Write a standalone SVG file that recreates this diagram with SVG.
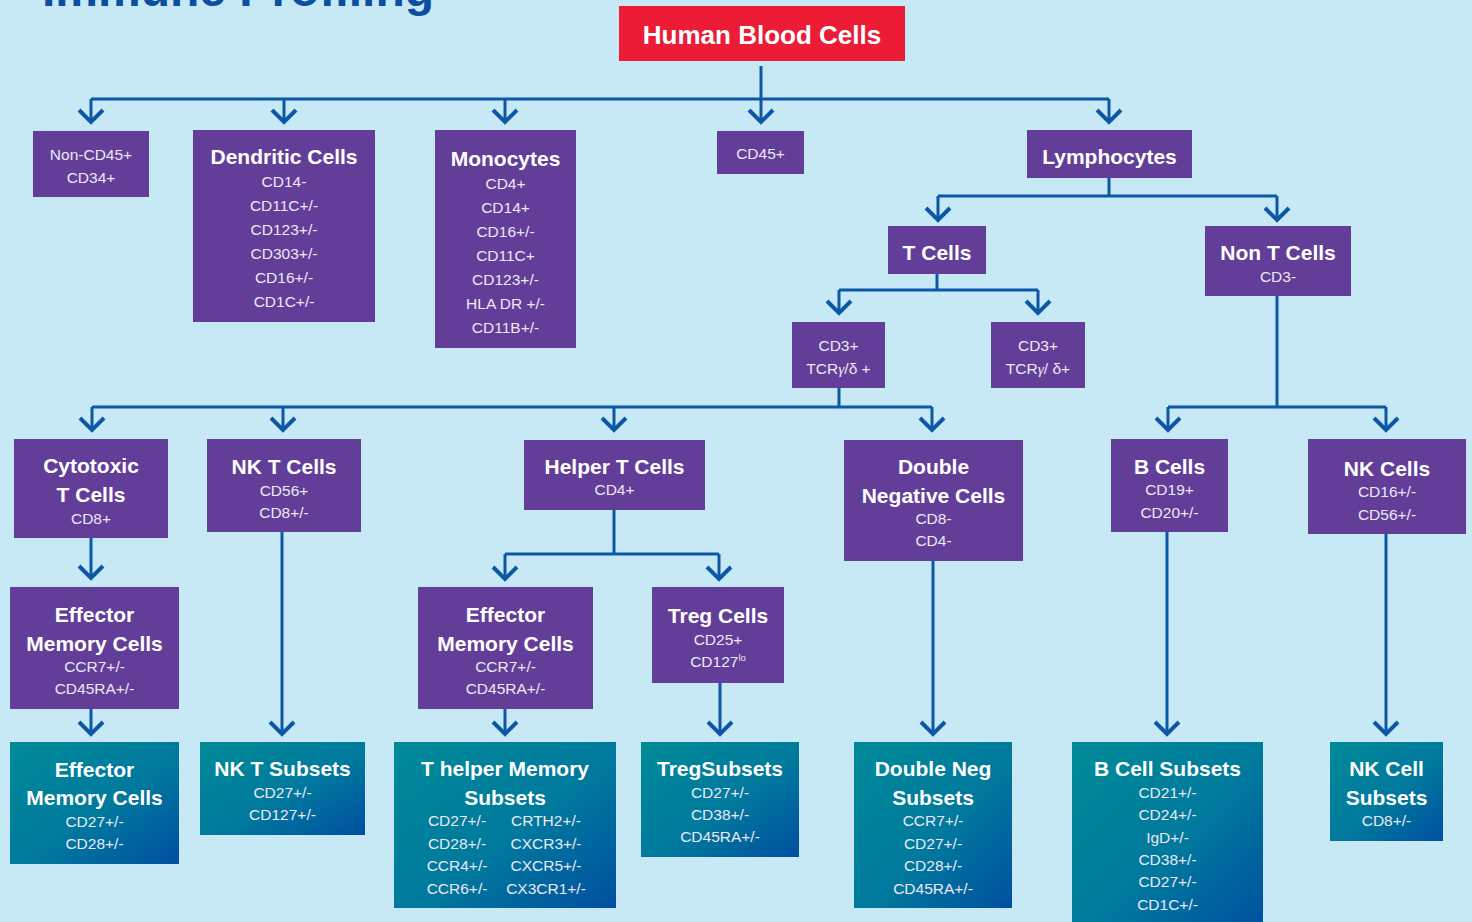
<svg xmlns="http://www.w3.org/2000/svg" width="1472" height="922" viewBox="0 0 1472 922">
  <style>
    .bg { fill: #c6e9f5; }
    .purple { fill: #633e98; }
    .teal { fill: url(#tealGrad); }
    .red { fill: #ec1b36; }
    .t { font-family: "Liberation Sans", Arial, sans-serif; font-weight: bold; font-size: 21px; fill: #ffffff; text-anchor: middle; }
    .s { font-family: "Liberation Sans", Arial, sans-serif; font-size: 15.5px; fill: #ece8f5; text-anchor: middle; }
    .big { font-family: "Liberation Sans", Arial, sans-serif; font-weight: bold; font-size: 26px; fill: #ffffff; text-anchor: middle; }
    .head { font-family: "Liberation Sans", Arial, sans-serif; font-weight: bold; font-size: 48px; fill: #0b4ea2; }
    .conn path { fill: none; stroke: #0d57a7; stroke-width: 3; }
    .conn path.arr { marker-end: url(#chev); }
  </style>
  <defs>
    <linearGradient id="tealGrad" x1="0" y1="0" x2="1" y2="1">
      <stop offset="0" stop-color="#008b98"/>
      <stop offset="0.55" stop-color="#00799d"/>
      <stop offset="1" stop-color="#004fa0"/>
    </linearGradient>
    <marker id="chev" markerUnits="userSpaceOnUse" markerWidth="40" markerHeight="40" viewBox="-20 -20 40 40" refX="0" refY="0" orient="auto" overflow="visible">
      <path d="M-12,-12 L0,0 L-12,12" fill="none" stroke="#0d57a7" stroke-width="4"/>
    </marker>
  </defs>

  <rect class="bg" x="0" y="0" width="1472" height="922"/>
  <text class="head" x="42" y="6">Immune Profiling</text>

  <g id="connectors" class="conn">
    <path d="M761,66 V99"/>
    <path d="M91,99 H1109"/>
    <path class="arr" d="M91,99 V122"/>
    <path class="arr" d="M284,99 V122"/>
    <path class="arr" d="M505,99 V122"/>
    <path class="arr" d="M761,99 V122"/>
    <path class="arr" d="M1109,99 V122"/>

    <path d="M1109,178 V196"/>
    <path d="M938,196 H1277"/>
    <path class="arr" d="M938,196 V220"/>
    <path class="arr" d="M1277,196 V220"/>

    <path d="M937,274 V290"/>
    <path d="M839,290 H1038"/>
    <path class="arr" d="M839,290 V313"/>
    <path class="arr" d="M1038,290 V313"/>

    <path d="M839,388 V407"/>
    <path d="M92,407 H932"/>
    <path class="arr" d="M92,407 V430"/>
    <path class="arr" d="M283,407 V430"/>
    <path class="arr" d="M614,407 V430"/>
    <path class="arr" d="M932,407 V430"/>

    <path d="M1277,296 V407"/>
    <path d="M1168,407 H1386"/>
    <path class="arr" d="M1168,407 V430"/>
    <path class="arr" d="M1386,407 V430"/>

    <path class="arr" d="M91,538 V578"/>

    <path d="M614,510 V554"/>
    <path d="M505,554 H719"/>
    <path class="arr" d="M505,554 V579"/>
    <path class="arr" d="M719,554 V579"/>

    <path class="arr" d="M91,709 V734"/>
    <path class="arr" d="M282,532 V734"/>
    <path class="arr" d="M505,709 V734"/>
    <path class="arr" d="M720,683 V734"/>
    <path class="arr" d="M933,561 V734"/>
    <path class="arr" d="M1167,532 V734"/>
    <path class="arr" d="M1386,534 V734"/>
  </g>

  <g id="human-blood-cells">
    <rect class="red" x="619" y="6" width="286" height="55"/>
    <text class="big" x="762" y="44">Human Blood Cells</text>
  </g>

  <g id="non-cd45">
    <rect class="purple" x="33" y="131" width="116" height="66"/>
    <text class="s" x="91" y="160">Non-CD45+</text>
    <text class="s" x="91" y="183">CD34+</text>
  </g>

  <g id="dendritic-cells">
    <rect class="purple" x="193" y="130" width="182" height="192"/>
    <text class="t" x="284" y="163.5">Dendritic Cells</text>
    <text class="s" x="284" y="186.5">CD14-</text>
    <text class="s" x="284" y="210.5">CD11C+/-</text>
    <text class="s" x="284" y="234.5">CD123+/-</text>
    <text class="s" x="284" y="258.5">CD303+/-</text>
    <text class="s" x="284" y="282.5">CD16+/-</text>
    <text class="s" x="284" y="306.5">CD1C+/-</text>
  </g>

  <g id="monocytes">
    <rect class="purple" x="435" y="130" width="141" height="218"/>
    <text class="t" x="505.5" y="165.5">Monocytes</text>
    <text class="s" x="505.5" y="188.5">CD4+</text>
    <text class="s" x="505.5" y="212.5">CD14+</text>
    <text class="s" x="505.5" y="236.5">CD16+/-</text>
    <text class="s" x="505.5" y="260.5">CD11C+</text>
    <text class="s" x="505.5" y="284.5">CD123+/-</text>
    <text class="s" x="505.5" y="308.5">HLA DR +/-</text>
    <text class="s" x="505.5" y="332.5">CD11B+/-</text>
  </g>

  <g id="cd45">
    <rect class="purple" x="717" y="131" width="87" height="43"/>
    <text class="s" x="760.5" y="158.5">CD45+</text>
  </g>

  <g id="lymphocytes">
    <rect class="purple" x="1027" y="130" width="165" height="48"/>
    <text class="t" x="1109.5" y="163.5">Lymphocytes</text>
  </g>

  <g id="t-cells">
    <rect class="purple" x="888" y="226" width="98" height="48"/>
    <text class="t" x="937" y="259.5">T Cells</text>
  </g>

  <g id="non-t-cells">
    <rect class="purple" x="1205" y="226" width="146" height="70"/>
    <text class="t" x="1278" y="259.5">Non T Cells</text>
    <text class="s" x="1278" y="281.5">CD3-</text>
  </g>

  <g id="cd3-tcr-1">
    <rect class="purple" x="792" y="322" width="93" height="66"/>
    <text class="s" x="838.5" y="350.5">CD3+</text>
    <text class="s" x="838.5" y="373.5">TCR<tspan font-family="'Liberation Serif', serif" font-style="italic">γ</tspan>/δ +</text>
  </g>

  <g id="cd3-tcr-2">
    <rect class="purple" x="991" y="322" width="94" height="66"/>
    <text class="s" x="1038" y="350.5">CD3+</text>
    <text class="s" x="1038" y="373.5">TCR<tspan font-family="'Liberation Serif', serif" font-style="italic">γ</tspan>/ δ+</text>
  </g>

  <g id="cytotoxic-t-cells">
    <rect class="purple" x="14" y="439" width="154" height="99"/>
    <text class="t" x="91" y="472.5">Cytotoxic</text>
    <text class="t" x="91" y="501.5">T Cells</text>
    <text class="s" x="91" y="523.5">CD8+</text>
  </g>

  <g id="nk-t-cells">
    <rect class="purple" x="207" y="439" width="154" height="93"/>
    <text class="t" x="284" y="473.5">NK T Cells</text>
    <text class="s" x="284" y="495.5">CD56+</text>
    <text class="s" x="284" y="517.5">CD8+/-</text>
  </g>

  <g id="helper-t-cells">
    <rect class="purple" x="524" y="440" width="181" height="70"/>
    <text class="t" x="614.5" y="473.5">Helper T Cells</text>
    <text class="s" x="614.5" y="494.5">CD4+</text>
  </g>

  <g id="double-negative-cells">
    <rect class="purple" x="844" y="440" width="179" height="121"/>
    <text class="t" x="933.5" y="473.5">Double</text>
    <text class="t" x="933.5" y="502.5">Negative Cells</text>
    <text class="s" x="933.5" y="523.5">CD8-</text>
    <text class="s" x="933.5" y="545.5">CD4-</text>
  </g>

  <g id="b-cells">
    <rect class="purple" x="1111" y="439" width="117" height="93"/>
    <text class="t" x="1169.5" y="473.5">B Cells</text>
    <text class="s" x="1169.5" y="494.5">CD19+</text>
    <text class="s" x="1169.5" y="517.5">CD20+/-</text>
  </g>

  <g id="nk-cells">
    <rect class="purple" x="1308" y="439" width="158" height="95"/>
    <text class="t" x="1387" y="475.5">NK Cells</text>
    <text class="s" x="1387" y="496.5">CD16+/-</text>
    <text class="s" x="1387" y="519.5">CD56+/-</text>
  </g>

  <g id="effector-memory-cytotoxic">
    <rect class="purple" x="10" y="587" width="169" height="122"/>
    <text class="t" x="94.5" y="621.5">Effector</text>
    <text class="t" x="94.5" y="650.5">Memory Cells</text>
    <text class="s" x="94.5" y="671.5">CCR7+/-</text>
    <text class="s" x="94.5" y="693.5">CD45RA+/-</text>
  </g>

  <g id="effector-memory-helper">
    <rect class="purple" x="418" y="587" width="175" height="122"/>
    <text class="t" x="505.5" y="621.5">Effector</text>
    <text class="t" x="505.5" y="650.5">Memory Cells</text>
    <text class="s" x="505.5" y="671.5">CCR7+/-</text>
    <text class="s" x="505.5" y="693.5">CD45RA+/-</text>
  </g>

  <g id="treg-cells">
    <rect class="purple" x="652" y="587" width="132" height="96"/>
    <text class="t" x="718" y="622.5">Treg Cells</text>
    <text class="s" x="718" y="644.5">CD25+</text>
    <text class="s" x="718" y="666.5">CD127<tspan font-size="9.5px" dy="-6">lo</tspan></text>
  </g>

  <g id="effector-memory-subsets">
    <rect class="teal" x="10" y="742" width="169" height="122"/>
    <text class="t" x="94.5" y="776.5">Effector</text>
    <text class="t" x="94.5" y="804.5">Memory Cells</text>
    <text class="s" x="94.5" y="826.5">CD27+/-</text>
    <text class="s" x="94.5" y="848.5">CD28+/-</text>
  </g>

  <g id="nk-t-subsets">
    <rect class="teal" x="200" y="742" width="165" height="93"/>
    <text class="t" x="282.5" y="775.5">NK T Subsets</text>
    <text class="s" x="282.5" y="797.5">CD27+/-</text>
    <text class="s" x="282.5" y="819.5">CD127+/-</text>
  </g>

  <g id="t-helper-memory-subsets">
    <rect class="teal" x="394" y="742" width="222" height="166"/>
    <text class="t" x="505" y="775.5">T helper Memory</text>
    <text class="t" x="505" y="804.5">Subsets</text>
    <text class="s" x="457" y="825.5">CD27+/-</text>
    <text class="s" x="457" y="848.5">CD28+/-</text>
    <text class="s" x="457" y="870.5">CCR4+/-</text>
    <text class="s" x="457" y="893.5">CCR6+/-</text>
    <text class="s" x="546" y="825.5">CRTH2+/-</text>
    <text class="s" x="546" y="848.5">CXCR3+/-</text>
    <text class="s" x="546" y="870.5">CXCR5+/-</text>
    <text class="s" x="546" y="893.5">CX3CR1+/-</text>
  </g>

  <g id="treg-subsets">
    <rect class="teal" x="641" y="742" width="158" height="115"/>
    <text class="t" x="720" y="775.5">TregSubsets</text>
    <text class="s" x="720" y="797.5">CD27+/-</text>
    <text class="s" x="720" y="819.5">CD38+/-</text>
    <text class="s" x="720" y="841.5">CD45RA+/-</text>
  </g>

  <g id="double-neg-subsets">
    <rect class="teal" x="854" y="742" width="158" height="166"/>
    <text class="t" x="933" y="775.5">Double Neg</text>
    <text class="t" x="933" y="804.5">Subsets</text>
    <text class="s" x="933" y="825.5">CCR7+/-</text>
    <text class="s" x="933" y="848.5">CD27+/-</text>
    <text class="s" x="933" y="870.5">CD28+/-</text>
    <text class="s" x="933" y="893.5">CD45RA+/-</text>
  </g>

  <g id="b-cell-subsets">
    <rect class="teal" x="1072" y="742" width="191" height="190"/>
    <text class="t" x="1167.5" y="775.5">B Cell Subsets</text>
    <text class="s" x="1167.5" y="797.5">CD21+/-</text>
    <text class="s" x="1167.5" y="819.5">CD24+/-</text>
    <text class="s" x="1167.5" y="842.5">IgD+/-</text>
    <text class="s" x="1167.5" y="864.5">CD38+/-</text>
    <text class="s" x="1167.5" y="886.5">CD27+/-</text>
    <text class="s" x="1167.5" y="909.5">CD1C+/-</text>
  </g>

  <g id="nk-cell-subsets">
    <rect class="teal" x="1330" y="742" width="113" height="99"/>
    <text class="t" x="1386.5" y="775.5">NK Cell</text>
    <text class="t" x="1386.5" y="804.5">Subsets</text>
    <text class="s" x="1386.5" y="825.5">CD8+/-</text>
  </g>
</svg>
